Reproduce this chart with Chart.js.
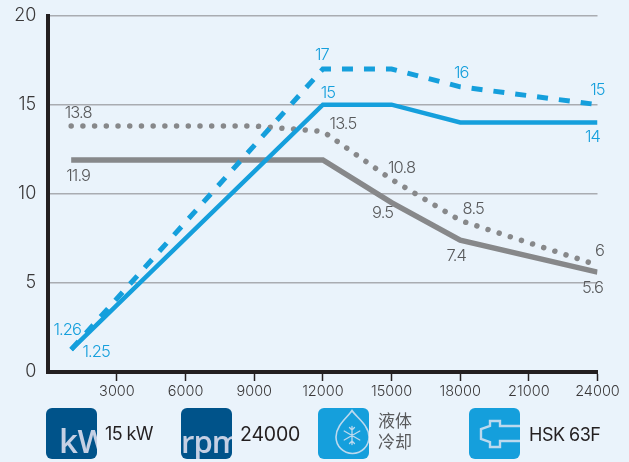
<!DOCTYPE html>
<html><head><meta charset="utf-8">
<script src="https://cdn.jsdelivr.net/npm/chart.js@4"></script>
<style>
html,body{margin:0;padding:0;background:#eaf3fb;width:629px;height:462px;overflow:hidden}
#wrap{position:relative;width:629px;height:462px}
canvas{position:absolute;left:0;top:0}
.box{position:absolute;top:408px;width:51px;height:51px;border-radius:6px;overflow:hidden}
.box span{position:absolute;color:#c5d0e4;font-family:"Open Sans",sans-serif;font-weight:600;white-space:nowrap}
.box svg{position:absolute;left:0;top:0}
.t{position:absolute;font-family:Inter,sans-serif;color:#231f20;white-space:nowrap}
</style></head><body>
<div id="wrap">
<canvas id="c" width="629" height="462"></canvas>
<div class="box" style="left:46px;background:#00538a"><span style="left:13px;top:14px;font-size:33px;line-height:37px;letter-spacing:-.5px">kW</span></div>
<div class="t" style="left:105px;top:423px;font-size:18px;letter-spacing:-.6px">15 kW</div>
<div class="box" style="left:181px;background:#00538a"><span style="left:0;top:14.500px;font-size:31px;line-height:37px;letter-spacing:-1px">rpm</span></div>
<div class="t" style="left:240px;top:422px;font-size:19.500px;letter-spacing:-.2px">24000</div>
<div class="box" style="left:318px;background:#159fdc"><svg width="51" height="51" fill="none" stroke="#bcd9ee" stroke-width="1.6">
<path d="M34 2.5C30 9 18 17 18 29a16.5 16.5 0 0 0 33 0C51 17 38 9 34 2.5Z"/>
<g stroke-linecap="round" stroke-width="1.3"><path d="M34 18.5V36.5M26.2 23L41.800 32M26.2 32L41.800 23M31.500 19.500L34 22L36.500 19.500M31.500 35.500L34 33L36.500 35.500"/></g></svg></div>
<div class="t" style="left:378px;top:409px;font-family:'Noto Sans CJK SC';font-size:17px;line-height:21px;color:#58595b;letter-spacing:0">液体<br>冷却</div>
<div class="box" style="left:469px;background:#159fdc"><svg width="51" height="51" fill="none" stroke="#bcd9ee" stroke-width="2.400">
<path d="M51 18H31V13H21V18L12 21V31L21 34V39H31V33H51"/></svg></div>
<div class="t" style="left:529px;top:424px;font-size:18px;letter-spacing:-.5px">HSK 63F</div>
</div>
<script>
// Data
const speedsDashed = [1000, 12000, 15000, 18000, 24000];
const dashedValues = [1.26, 17, 17, 16, 15];
const speedsSolid = [1000, 12000, 15000, 18000, 24000];
const solidValues = [1.25, 15, 15, 14, 14];
const speedsDotted = [1000, 9000, 12000, 15000, 18000, 24000];
const dottedValues = [13.8, 13.8, 13.5, 10.8, 8.5, 6];
const speedsGrey = [1000, 12000, 15000, 18000, 24000];
const greyValues = [11.9, 11.9, 9.5, 7.4, 5.6];
const xTickStep = 3000;
const yTickStep = 5;

// Label placement: [dataset, point, text, dx, dy]
const pointLabels = [
 [0,0,'1.26',-4,-19],[0,1,'17',-1,-14],[0,3,'16',1,-14],[0,4,'15',0,-15],
 [1,0,'1.25',25,2],[1,1,'15',5,-12],[1,4,'14',-5,15],
 [2,0,'13.8',7,-13],[2,2,'13.5',20,-7],[2,3,'10.8',10,-11],[2,4,'8.5',13,-11],[2,5,'6',2,-14],
 [3,0,'11.9',7,16],[3,2,'9.5',-9,10],[3,3,'7.4',-4,16],[3,4,'5.6',-5,16]
];
const BLUE='#159fdc', GREY='#87888a', LABEL_GREY='#58595b', INK='#231f20', GRID='#a9acb1';
const pts=(xs,ys)=>xs.map((x,i)=>({x,y:ys[i]}));

const labelPlugin={id:'pointLabels',afterDatasetsDraw(chart){
  const {ctx,scales:{x,y}}=chart;
  ctx.save();
  ctx.textAlign='center';ctx.textBaseline='middle';
  ctx.font='300 16.500px Inter, sans-serif';
  ctx.letterSpacing='-0.9px';
  pointLabels.forEach(([d,p,t,dx,dy])=>{
    const pt=chart.data.datasets[d].data[p];
    ctx.fillStyle=d<2?BLUE:LABEL_GREY;
    ctx.fillText(t,x.getPixelForValue(pt.x)+dx,y.getPixelForValue(pt.y)+dy);
  });
  ctx.restore();
}};

new Chart(document.getElementById('c'),{
 type:'line',
 plugins:[labelPlugin],
 data:{datasets:[
  {label:'dashed',data:pts(speedsDashed,dashedValues),borderColor:BLUE,borderWidth:5,borderDash:[11,11],order:0},
  {label:'solid',data:pts(speedsSolid,solidValues),borderColor:BLUE,borderWidth:4.500,order:1},
  {label:'dotted',data:pts(speedsDotted,dottedValues),borderColor:GREY,borderWidth:5.500,borderDash:[0.01,11.700],borderCapStyle:'round',order:2},
  {label:'grey',data:pts(speedsGrey,greyValues),borderColor:GREY,borderWidth:5.500,order:3}
 ]},
 options:{
  responsive:false,animation:false,
  layout:{padding:{left:0,top:15.500,right:31.500,bottom:0}},
  plugins:{legend:{display:false},tooltip:{enabled:false}},
  elements:{point:{radius:0},line:{tension:0,fill:false}},
  scales:{
   x:{type:'linear',min:0,max:24000,
    afterBuildTicks:s=>{s.ticks=s.ticks.filter(t=>t.value>0)},
    afterFit:s=>{s.height=90;s.paddingLeft=0;s.paddingRight=0},
    border:{color:INK,width:4},
    grid:{drawOnChartArea:false,drawTicks:true,tickLength:9,tickWidth:1.500,tickColor:INK},
    ticks:{stepSize:xTickStep,autoSkip:false,maxRotation:0,padding:2,color:'#3a3839',
     callback:v=>String(v),
     font:{family:'Inter, sans-serif',size:14.500,weight:'300'}}},
   y:{min:0,max:20,
    afterFit:s=>{s.width=48.300;s.paddingTop=0;s.paddingBottom=0},
    border:{color:INK,width:4},
    grid:{color:GRID,lineWidth:1.500,drawTicks:false},
    ticks:{stepSize:yTickStep,padding:12,color:'#3a3839',
     font:{family:'Inter, sans-serif',size:18,weight:'300'}}}
  }
 }
});
</script>
</body></html>
